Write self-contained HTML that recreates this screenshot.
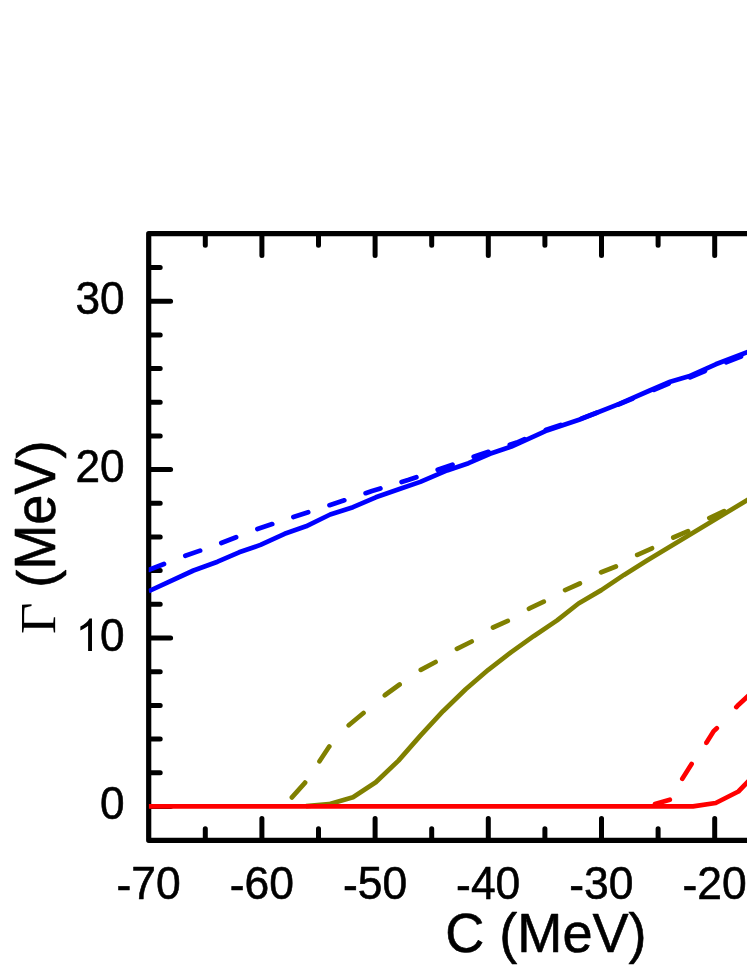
<!DOCTYPE html>
<html>
<head>
<meta charset="utf-8">
<title>Gamma vs C</title>
<style>
html,body{margin:0;padding:0;background:#fff;}
body{width:747px;height:967px;overflow:hidden;font-family:"Liberation Sans",sans-serif;}
svg{display:block;}
</style>
</head>
<body>
<svg width="747" height="967" viewBox="0 0 747 967">
<rect width="747" height="967" fill="#fff"/>
<path d="M760,233.7 L148.7,233.7 L148.7,840.3 L760,840.3" fill="none" stroke="#000" stroke-width="5.2" stroke-linejoin="round"/>
<path d="M205.3,234.7 v10.5 M205.3,839.3 v-10.5 M261.9,234.7 v20.9 M261.9,839.3 v-20.9 M318.5,234.7 v10.5 M318.5,839.3 v-10.5 M375.1,234.7 v20.9 M375.1,839.3 v-20.9 M431.7,234.7 v10.5 M431.7,839.3 v-10.5 M488.3,234.7 v20.9 M488.3,839.3 v-20.9 M544.9,234.7 v10.5 M544.9,839.3 v-10.5 M601.5,234.7 v20.9 M601.5,839.3 v-20.9 M658.1,234.7 v10.5 M658.1,839.3 v-10.5 M714.7,234.7 v20.9 M714.7,839.3 v-20.9 M771.3,234.7 v10.5 M771.3,839.3 v-10.5 M149.7,806.4 h20.9 M149.7,772.7 h10.5 M149.7,739.0 h10.5 M149.7,705.4 h10.5 M149.7,671.7 h10.5 M149.7,638.0 h20.9 M149.7,604.3 h10.5 M149.7,570.6 h10.5 M149.7,537.0 h10.5 M149.7,503.3 h10.5 M149.7,469.6 h20.9 M149.7,435.9 h10.5 M149.7,402.2 h10.5 M149.7,368.6 h10.5 M149.7,334.9 h10.5 M149.7,301.2 h20.9 M149.7,267.5 h10.5" fill="none" stroke="#000" stroke-width="5.0" stroke-linecap="round"/>
<clipPath id="plot"><rect x="148.7" y="0" width="700" height="967"/></clipPath>
<g fill="none" stroke-width="4.7" stroke-linejoin="round" clip-path="url(#plot)">
<path d="M148.7,591.2 L193.5,570.5 L217.6,561.7 L239.1,552.3 L260.5,544.9 L284.6,533.8 L306.0,526.3 L330.2,514.5 L353.0,507.2 L375.8,497.3 L400.2,488.8 L420.3,481.9 L447.1,470.4 L468.5,463.2 L490.0,453.8 L511.4,446.6 L540.0,433.7 L547.0,430.4 L579.1,419.7 L619.3,403.9 L648.7,391.0 L670.2,381.7 L688.9,376.3 L715.7,364.3 L752.0,350.3" stroke="#0000ff"/>
<path d="M149.2,569.8 L164.0,564.0 M185.3,555.8 L200.1,550.6 M221.3,543.0 L236.1,537.2 M257.4,529.0 L272.2,524.1 M293.4,517.0 L308.2,512.2 M329.5,505.2 L344.3,500.3 M365.6,493.2 L372.0,491.0 L380.4,488.5 M401.6,482.0 L408.8,479.8 L416.4,477.2 M437.7,469.8 L445.8,467.0 L452.5,464.6 M473.7,456.8 L481.0,454.2 L488.5,451.8 M509.8,444.8 L516.7,442.6 L524.6,439.2 M545.9,430.0 L547.0,429.5 L560.7,425.0 M581.9,418.4 L596.7,412.7 M618.0,404.6 L619.0,404.2 L632.8,398.6 M654.0,389.8 L668.8,383.6 M690.1,377.4 L704.9,371.0 M726.2,362.2 L741.0,356.5" stroke="#0000ff" stroke-linecap="round"/>
<path d="M306.0,806.2 L328.9,804.2 L353.0,797.2 L375.8,782.3 L398.5,760.6 L420.4,735.6 L443.0,711.2 L465.7,689.2 L488.3,669.8 L510.9,652.3 L533.6,636.2 L557.1,620.4 L578.5,603.5 L601.3,590.1 L624.0,574.9 L647.0,560.6 L752.0,497.2" stroke="#808000"/>
<path d="M291.9,797.4 L304.9,782.9 L305.1,782.6 M319.5,761.3 L319.5,761.3 L328.9,747.0 L329.3,746.5 M348.7,725.3 L349.0,725.0 L363.5,713.0 M384.8,695.3 L385.1,695.0 L399.6,684.5 M420.8,669.9 L435.6,662.0 M456.9,648.8 L471.7,641.5 M493.0,627.5 L507.8,620.9 M529.0,608.7 L529.5,608.4 L543.8,601.7 M565.1,590.1 L565.1,590.1 L579.9,583.5 M601.1,572.3 L601.3,572.2 L615.9,566.5 M637.2,554.9 L637.4,554.8 L652.0,548.3 M673.3,537.5 L688.1,531.1 M709.3,518.1 L724.1,511.1" stroke="#808000" stroke-linecap="round"/>
<path d="M148.7,806.4 L693.0,806.4 L715.7,803.0 L738.4,791.5 L752.0,777.5" stroke="#ff0000"/>
<path d="M655.0,804.1 L669.8,799.7 M682.3,778.8 L691.6,764.0 M706.3,742.8 L706.4,742.8 L713.6,731.2 L716.8,728.3 M736.3,707.1 L737.5,705.8 L751.0,693.2" stroke="#ff0000" stroke-linecap="round"/>
</g>
<g font-family="'Liberation Sans', sans-serif" fill="#000" stroke="#000" stroke-width="0.6" stroke-linejoin="round" style="filter:grayscale(1)">
<text transform="translate(124.6,819.0) scale(0.956,1.0)" font-size="46.2" text-anchor="end">0</text>
<text transform="translate(124.6,651.0) scale(0.956,1.0)" font-size="46.2" text-anchor="end">0</text>
<path transform="translate(75.56,650.90) scale(0.021526,-0.022020)" d="M763 0H583V1147Q518 1085 412.5 1023T223 930V1104Q374 1175 487 1276T647 1472H763Z"/>
<text transform="translate(124.6,482.0) scale(0.956,1.0)" font-size="46.2" text-anchor="end">20</text>
<text transform="translate(124.6,314.0) scale(0.956,1.0)" font-size="46.2" text-anchor="end">30</text>
<text transform="translate(148.6,899.0) scale(0.962,1.0)" font-size="46.2" text-anchor="middle"><tspan dy="1.8">-</tspan><tspan dy="-1.8">70</tspan></text>
<text transform="translate(261.8,899.0) scale(0.962,1.0)" font-size="46.2" text-anchor="middle"><tspan dy="1.8">-</tspan><tspan dy="-1.8">60</tspan></text>
<text transform="translate(375.0,899.0) scale(0.962,1.0)" font-size="46.2" text-anchor="middle"><tspan dy="1.8">-</tspan><tspan dy="-1.8">50</tspan></text>
<text transform="translate(488.2,899.0) scale(0.962,1.0)" font-size="46.2" text-anchor="middle"><tspan dy="1.8">-</tspan><tspan dy="-1.8">40</tspan></text>
<text transform="translate(601.4,899.0) scale(0.962,1.0)" font-size="46.2" text-anchor="middle"><tspan dy="1.8">-</tspan><tspan dy="-1.8">30</tspan></text>
<text transform="translate(714.6,899.0) scale(0.962,1.0)" font-size="46.2" text-anchor="middle"><tspan dy="1.8">-</tspan><tspan dy="-1.8">20</tspan></text>
<text transform="translate(545.9,951.8) scale(0.984,1.012)" font-size="55" text-anchor="middle">C (MeV)</text>
<text transform="translate(54.8,587.7) rotate(-90) scale(0.983,0.99)" font-size="55" text-anchor="start">(</text>
<text transform="translate(54.8,569.7) rotate(-90) scale(0.983,1.041)" font-size="55" text-anchor="start">MeV</text>
<text transform="translate(54.8,458.6) rotate(-90) scale(0.983,0.99)" font-size="55" text-anchor="start">)</text>
<text transform="translate(55.1,618.2) rotate(-90) scale(1.048,0.954)" font-size="52" text-anchor="middle" font-family="'Liberation Serif', serif" stroke-width="0">&#915;</text>
</g>
</svg>
</body>
</html>
